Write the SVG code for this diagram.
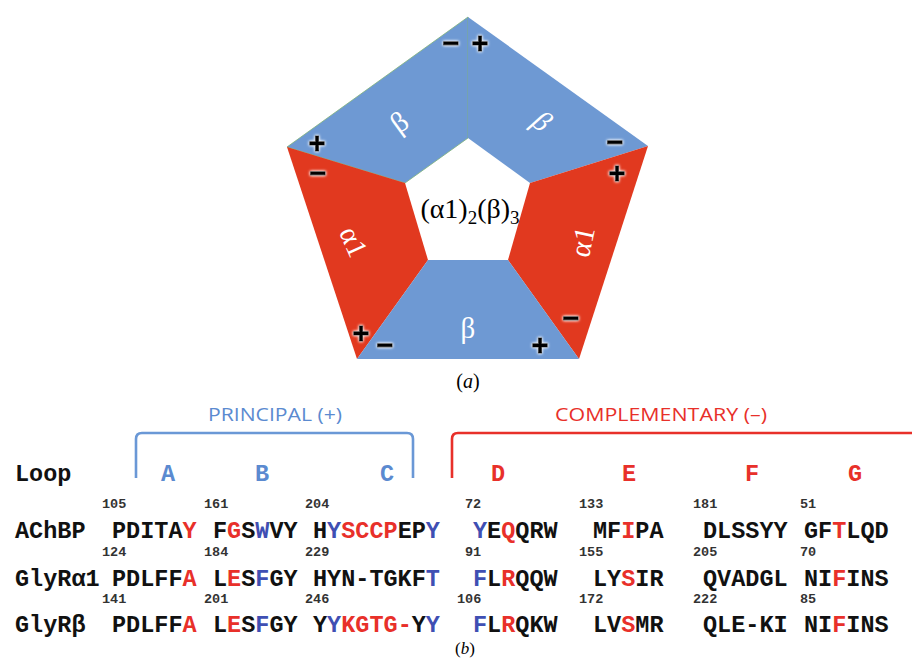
<svg xmlns="http://www.w3.org/2000/svg" width="912" height="658" viewBox="0 0 912 658">
  <defs>
    <filter id="glow" x="-50%" y="-50%" width="200%" height="200%">
      <feGaussianBlur in="SourceAlpha" stdDeviation="1.6" result="b"/>
      <feFlood flood-color="#ffffff" flood-opacity="0.9"/>
      <feComposite in2="b" operator="in" result="halo"/>
      <feMerge><feMergeNode in="halo"/><feMergeNode in="halo"/><feMergeNode in="SourceGraphic"/></feMerge>
    </filter>
  </defs>
  <style>
    .beta { fill: #6e99d3; }
    .alpha { fill: #e1391f; }
    .sublabel { fill: #ffffff; font-family: "Liberation Serif", "DejaVu Serif", serif; font-size: 29px; text-anchor: middle; }
    .sign { fill: #000000; stroke: #000000; stroke-width: 0.9; font-family: "Liberation Sans", Arial, sans-serif; font-weight: bold; font-size: 29px; text-anchor: middle; filter: url(#glow); }
    .cap { fill: #000000; font-family: "Liberation Serif", serif; font-size: 20px; text-anchor: middle; }
    .pore { fill: #000000; font-family: "Liberation Serif", serif; font-size: 28px; text-anchor: middle; }
    .sub { font-size: 19px; }
    .head { font-family: "Open Sans", "Noto Sans", sans-serif; font-size: 18px; text-anchor: middle; }
    .mono { font-family: "Liberation Mono", "Courier New", monospace; font-weight: bold; font-size: 23.5px; fill: #111111; }
    .num { font-family: "Liberation Mono", "Courier New", monospace; font-weight: bold; font-size: 13.5px; fill: #333333; }
    .r { fill: #e8302a; }
    .b { fill: #3f4fb3; }
    .lb { fill: #5b8ad0; }
    .bracket { fill: none; stroke-width: 2.6; }
  </style>

  <!-- pentameric receptor: five subunits around the central pore -->
  <g id="subunit-beta-top-left">
    <polygon class="beta" points="468,17 287,147 405,183 468,138" stroke="#7fb27a" stroke-width="0.8"/>
    <text class="sublabel" transform="translate(405,130) rotate(-36)">β</text>
    <text class="sign" x="317" y="153">+</text>
    <text class="sign" x="451" y="53">−</text>
  </g>
  <g id="subunit-beta-top-right">
    <polygon class="beta" points="468,17 648,146 530,183 468,138"/>
    <text class="sublabel" transform="translate(535,128) rotate(34) skewX(-14)">β</text>
    <text class="sign" x="480" y="53">+</text>
    <text class="sign" x="615" y="152">−</text>
  </g>
  <g id="subunit-alpha1-left">
    <polygon class="alpha" points="287,147 357,359 428,260 405,183"/>
    <text class="sublabel" transform="translate(353,242) rotate(66)" dy="9">α1</text>
    <text class="sign" x="318" y="183">−</text>
    <text class="sign" x="361" y="343">+</text>
  </g>
  <g id="subunit-alpha1-right">
    <polygon class="alpha" points="648,146 579,359 508,260 530,183"/>
    <text class="sublabel" transform="translate(583,242) rotate(-78)" dy="9">α1</text>
    <text class="sign" x="617" y="183">+</text>
    <text class="sign" x="571" y="328">−</text>
  </g>
  <g id="subunit-beta-bottom">
    <polygon class="beta" points="357,359 579,359 508,260 428,260"/>
    <text class="sublabel" x="468" y="338">β</text>
    <text class="sign" x="385" y="355">−</text>
    <text class="sign" x="540" y="355">+</text>
  </g>
  <g id="pore">
    <text class="pore" x="470" y="218">(α1)<tspan class="sub" dy="6">2</tspan><tspan dy="-6">(β)</tspan><tspan class="sub" dy="6">3</tspan></text>
  </g>
  <text class="cap" x="468" y="388">(<tspan font-style="italic">a</tspan>)</text>

  <!-- loop brackets -->
  <g id="connectors">
    <path class="bracket" stroke="#6a98d6" d="M136,478 V439 Q136,433 142,433 H407 Q413,433 413,439 V478"/>
    <path class="bracket" stroke="#e8302a" d="M452,478 V439 Q452,433 458,433 H912"/>
  </g>
  <g id="principal">
    <text class="head" x="275" y="421" fill="#5b8ad0" textLength="134" lengthAdjust="spacingAndGlyphs">PRINCIPAL (+)</text>
  </g>
  <g id="complementary">
    <text class="head" x="661" y="421" fill="#e8302a" textLength="212" lengthAdjust="spacingAndGlyphs">COMPLEMENTARY (–)</text>
  </g>

  <!-- loop letters -->
  <g id="loops">
    <text class="mono" x="15" y="481">Loop</text>
    <text class="mono lb" x="161" y="481">A</text>
    <text class="mono lb" x="255" y="481">B</text>
    <text class="mono lb" x="380" y="481">C</text>
    <text class="mono r" x="491" y="481">D</text>
    <text class="mono r" x="622" y="481">E</text>
    <text class="mono r" x="745" y="481">F</text>
    <text class="mono r" x="848" y="481">G</text>
  </g>

  <!-- residue numbers -->
  <g id="numbers">
    <text class="num" x="102" y="508">105</text>
    <text class="num" x="204" y="508">161</text>
    <text class="num" x="305" y="508">204</text>
    <text class="num" x="465" y="508">72</text>
    <text class="num" x="579" y="508">133</text>
    <text class="num" x="693" y="508">181</text>
    <text class="num" x="800" y="508">51</text>

    <text class="num" x="102" y="556">124</text>
    <text class="num" x="204" y="556">184</text>
    <text class="num" x="305" y="556">229</text>
    <text class="num" x="465" y="556">91</text>
    <text class="num" x="579" y="556">155</text>
    <text class="num" x="693" y="556">205</text>
    <text class="num" x="800" y="556">70</text>

    <text class="num" x="102" y="603">141</text>
    <text class="num" x="204" y="603">201</text>
    <text class="num" x="305" y="603">246</text>
    <text class="num" x="457" y="603">106</text>
    <text class="num" x="579" y="603">172</text>
    <text class="num" x="693" y="603">222</text>
    <text class="num" x="800" y="603">85</text>
  </g>

  <!-- aligned sequences -->
  <g id="seq-achbp">
    <text class="mono" x="15" y="538">AChBP</text>
    <text class="mono" x="112" y="538">PDITA<tspan class="r">Y</tspan></text>
    <text class="mono" x="213" y="538">F<tspan class="r">G</tspan>S<tspan class="b">W</tspan>VY</text>
    <text class="mono" x="313" y="538">H<tspan class="b">Y</tspan><tspan class="r">SCCP</tspan>EP<tspan class="b">Y</tspan></text>
    <text class="mono" x="473" y="538"><tspan class="b">Y</tspan>E<tspan class="r">Q</tspan>QRW</text>
    <text class="mono" x="593" y="538">MF<tspan class="r">I</tspan>PA</text>
    <text class="mono" x="703" y="538">DLSSYY</text>
    <text class="mono" x="804" y="538">GF<tspan class="r">T</tspan>LQD</text>
  </g>
  <g id="seq-glyra1">
    <text class="mono" x="15" y="586">GlyRα1</text>
    <text class="mono" x="112" y="586">PDLFF<tspan class="r">A</tspan></text>
    <text class="mono" x="213" y="586">L<tspan class="r">E</tspan>S<tspan class="b">F</tspan>GY</text>
    <text class="mono" x="313" y="586">HYN-TGKF<tspan class="b">T</tspan></text>
    <text class="mono" x="473" y="586"><tspan class="b">F</tspan>L<tspan class="r">R</tspan>QQW</text>
    <text class="mono" x="593" y="586">LY<tspan class="r">S</tspan>IR</text>
    <text class="mono" x="703" y="586">QVADGL</text>
    <text class="mono" x="804" y="586">NI<tspan class="r">F</tspan>INS</text>
  </g>
  <g id="seq-glyrb">
    <text class="mono" x="15" y="632">GlyRβ</text>
    <text class="mono" x="112" y="632">PDLFF<tspan class="r">A</tspan></text>
    <text class="mono" x="213" y="632">L<tspan class="r">E</tspan>S<tspan class="b">F</tspan>GY</text>
    <text class="mono" x="313" y="632">Y<tspan class="b">Y</tspan><tspan class="r">KGTG-</tspan>Y<tspan class="b">Y</tspan></text>
    <text class="mono" x="473" y="632"><tspan class="b">F</tspan>L<tspan class="r">R</tspan>QKW</text>
    <text class="mono" x="593" y="632">LV<tspan class="r">S</tspan>MR</text>
    <text class="mono" x="703" y="632">QLE-KI</text>
    <text class="mono" x="804" y="632">NI<tspan class="r">F</tspan>INS</text>
  </g>
  <text class="cap" x="465" y="654" style="font-size:17px">(<tspan font-style="italic">b</tspan>)</text>
</svg>
